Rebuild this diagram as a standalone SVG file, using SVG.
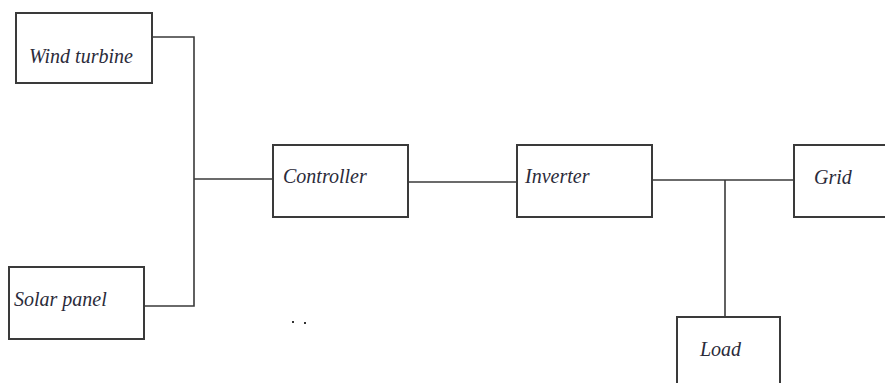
<svg xmlns="http://www.w3.org/2000/svg" width="885" height="383" viewBox="0 0 885 383">
<style>
.box{fill:#fff;stroke:#3a3a3a;stroke-width:2}
.lbl{font-family:"Liberation Serif","Times New Roman",serif;font-style:italic;font-size:20px;fill:#2b2b3a}
.wire{fill:none;stroke:#3a3a3a;stroke-width:1.6}
</style>
<rect width="885" height="383" fill="#fff"/>
<g id="connectors">
<path class="wire" d="M152,37 H194 V306 H144"/>
<path class="wire" d="M194,179 H273"/>
<path class="wire" d="M408,182 H517"/>
<path class="wire" d="M652,180 H794"/>
<path class="wire" d="M725,180 V317"/>
</g>
<g id="wind-turbine"><rect class="box" x="16" y="13" width="136" height="70"/><text class="lbl" x="29" y="63">Wind turbine</text></g>
<g id="solar-panel"><rect class="box" x="9" y="267" width="135" height="72"/><text class="lbl" x="14" y="306">Solar panel</text></g>
<g id="controller"><rect class="box" x="273" y="145" width="135" height="72"/><text class="lbl" x="283" y="183">Controller</text></g>
<g id="inverter"><rect class="box" x="517" y="145" width="135" height="72"/><text class="lbl" x="525" y="183">Inverter</text></g>
<g id="grid"><rect class="box" x="794" y="145" width="100" height="72"/><text class="lbl" x="814" y="184">Grid</text></g>
<g id="load"><rect class="box" x="677" y="317" width="103" height="80"/><text class="lbl" x="700" y="356">Load</text></g>
<g id="dots"><rect x="292" y="321" width="2" height="2" fill="#333"/><rect x="304" y="322" width="2" height="2" fill="#333"/></g>
</svg>
